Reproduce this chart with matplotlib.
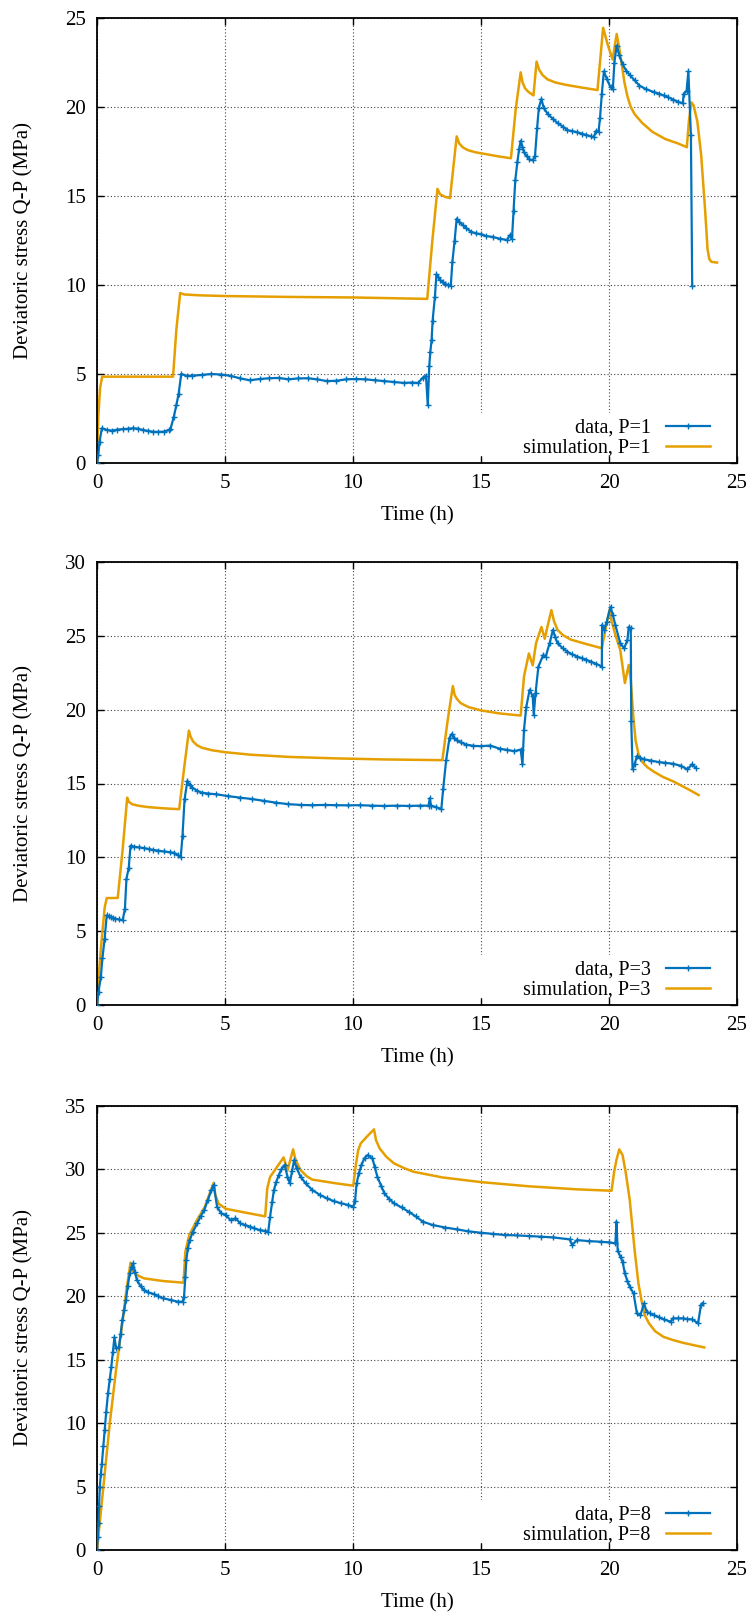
import matplotlib
matplotlib.use("Agg")
import matplotlib.pyplot as plt
from matplotlib.patches import Rectangle

plt.rcParams['font.family'] = ['Liberation Serif', 'DejaVu Serif']
plt.rcParams['axes.unicode_minus'] = False

BLUE = '#0072bd'
ORANGE = '#e69f00'

# ---------------- Panel 1 (P=1) ----------------
p1_data_t = [0, 0.05, 0.1, 0.19, 0.4, 0.6, 0.8, 1.0, 1.2, 1.4, 1.6, 1.8, 2.0, 2.2, 2.4, 2.6, 2.8,
             2.87, 3.0, 3.1, 3.19, 3.29,
             3.5, 3.72, 4.1, 4.47, 4.85, 5.22, 5.6, 5.97, 6.35, 6.72, 7.1, 7.48, 7.85, 8.23, 8.6,
             8.98, 9.35, 9.73, 10.1, 10.48, 10.85, 11.23, 11.6, 11.98, 12.3, 12.55,
             12.73, 12.85, 12.92, 12.98, 13.02, 13.07, 13.11, 13.2, 13.26, 13.33, 13.4, 13.5, 13.58, 13.7, 13.82,
             13.88, 13.97, 14.05, 14.15, 14.3, 14.42, 14.6, 14.8, 15.0, 15.18, 15.45, 15.74, 16.02, 16.12,
             16.21, 16.27, 16.34,
             16.42, 16.49, 16.55, 16.62, 16.68, 16.78, 16.87, 17.02, 17.11, 17.19, 17.26, 17.36, 17.45,
             17.62, 17.8, 17.99, 18.2, 18.37, 18.55, 18.75, 18.95, 19.12, 19.3, 19.4, 19.5, 19.59,
             19.65, 19.72, 19.8, 19.91, 20.06, 20.15,
             20.21, 20.3, 20.4, 20.53, 20.67, 20.81, 21.0, 21.19, 21.45, 21.75, 21.95, 22.13, 22.3,
             22.5, 22.7, 22.88, 22.92, 23.03, 23.1, 23.2, 23.25]
p1_data_q = [0, 0.45, 1.2, 1.95, 1.85, 1.82, 1.88, 1.9, 1.92, 1.95, 1.93, 1.85, 1.8, 1.75, 1.75, 1.76,
             1.85, 1.9, 2.6, 3.25, 3.9, 5.0,
             4.9, 4.9, 4.95, 5.0, 4.97, 4.9, 4.75, 4.65, 4.72, 4.76, 4.78, 4.7, 4.75, 4.76, 4.7,
             4.6, 4.62, 4.7, 4.72, 4.7, 4.65, 4.6, 4.55, 4.5, 4.52, 4.5,
             4.8, 4.9, 3.25, 5.47, 6.25, 6.9, 8.0, 9.35, 10.6, 10.45, 10.3, 10.15, 10.07, 10.0, 9.96,
             11.27, 12.5, 13.73, 13.55, 13.35, 13.2, 13.0, 12.9, 12.85, 12.76, 12.7, 12.6, 12.53, 12.8,
             12.6, 14.17, 15.9,
             16.9, 17.65, 18.1, 17.75, 17.46, 17.25, 17.07, 17.0, 17.26, 18.8, 19.97, 20.45, 19.95,
             19.58, 19.35, 19.1, 18.9, 18.7, 18.65, 18.58, 18.5, 18.42, 18.35, 18.3, 18.66, 18.6,
             19.4, 20.75, 22.0, 21.6, 21.1, 21.0,
             22.5, 23.45, 22.9, 22.4, 22.05, 21.8, 21.5, 21.2, 21.0, 20.84, 20.75, 20.65, 20.55,
             20.42, 20.3, 20.2, 20.75, 20.9, 22.0, 18.4, 9.96]

p1_sim_t = [0, 0.05, 0.12, 0.2, 2.97, 3.1, 3.25, 3.4, 4.0, 5.0, 7.5, 10.0, 12.9, 13.1, 13.3,
            13.4, 13.6, 13.79, 14.05, 14.15, 14.3, 14.5, 14.8, 15.2, 15.7, 16.17,
            16.35, 16.55, 16.62, 16.72, 16.85, 17.05, 17.17, 17.27, 17.4, 17.6, 17.9, 18.3, 18.9,
            19.55, 19.77, 19.95, 20.14, 20.3, 20.4, 20.5, 20.6, 20.72, 20.85, 21.0, 21.3, 21.7,
            22.2, 22.7, 23.04, 23.12, 23.22, 23.3, 23.45, 23.6, 23.75, 23.85, 23.92, 24.0, 24.22]
p1_sim_q = [0, 2.6, 4.2, 4.85, 4.85, 7.5, 9.55, 9.47, 9.42, 9.38, 9.33, 9.3, 9.22, 12.5, 15.4,
            15.1, 14.95, 14.88, 18.35, 17.95, 17.72, 17.57, 17.45, 17.35, 17.22, 17.12,
            19.8, 21.95, 21.4, 21.05, 20.85, 20.65, 22.55, 22.1, 21.8, 21.55, 21.38, 21.25, 21.1,
            20.95, 24.45, 23.5, 22.67, 24.1, 23.3, 22.4, 21.4, 20.6, 20.0, 19.6, 19.1, 18.6,
            18.2, 17.95, 17.74, 19.2, 20.26, 20.1, 19.2, 17.3, 14.3, 12.0, 11.45, 11.3, 11.26]

# ---------------- Panel 2 (P=3) ----------------
p2_data_t = [0, 0.06, 0.15, 0.21, 0.3, 0.38, 0.45, 0.53, 0.62, 0.71, 0.85, 1.0, 1.09, 1.15, 1.24, 1.31,
             1.45, 1.65, 1.85, 2.03, 2.2, 2.4, 2.6, 2.87, 3.0, 3.16, 3.27, 3.34, 3.42, 3.53, 3.62, 3.72,
             3.9, 4.09, 4.35, 4.66, 5.1, 5.6, 6.05,
             6.54, 7.0, 7.48, 7.95, 8.41, 8.9, 9.35, 9.8, 10.29, 10.75, 11.23, 11.7, 12.17, 12.6, 12.95,
             13.0, 13.05, 13.25, 13.45, 13.52,
             13.64, 13.77, 13.86, 13.95, 14.05, 14.2, 14.42, 14.7, 14.99, 15.36, 15.74, 16.0, 16.3, 16.55,
             16.62, 16.68,
             16.77, 16.9, 17.02, 17.06, 17.13, 17.24, 17.43, 17.53, 17.68, 17.81, 17.9, 17.99, 18.2, 18.37,
             18.55, 18.75, 18.95, 19.12, 19.3, 19.5, 19.72, 19.73, 19.82, 19.91, 20.06, 20.15, 20.25, 20.44,
             20.59, 20.72,
             20.77, 20.85, 20.87, 20.92, 21.0, 21.09, 21.2, 21.37, 21.65, 21.94, 22.2, 22.5, 22.8, 23.06,
             23.25, 23.38]
p2_data_q = [0, 0.9, 1.9, 3.15, 4.5, 6.07, 6.0, 5.96, 5.9, 5.84, 5.8, 5.73, 6.5, 8.54, 9.3, 10.79,
             10.72, 10.67, 10.62, 10.56, 10.5, 10.45, 10.4, 10.34, 10.3, 10.16, 10.0, 11.46, 13.93, 15.17,
             14.9, 14.72, 14.52, 14.38, 14.32, 14.27, 14.15, 14.04, 13.95,
             13.82, 13.7, 13.6, 13.55, 13.53, 13.55, 13.53, 13.52, 13.53, 13.5, 13.48, 13.5, 13.48, 13.5, 13.5,
             14.0, 13.5, 13.4, 13.26, 14.6,
             16.6, 18.1, 18.36, 18.1, 17.93, 17.78, 17.64, 17.55, 17.53, 17.57, 17.35, 17.28, 17.19, 17.3,
             16.3, 18.65,
             20.2, 21.35, 20.9, 19.66, 21.1, 22.9, 23.7, 23.6, 24.5, 25.4, 24.9, 24.5, 24.15, 23.93,
             23.75, 23.6, 23.48, 23.37, 23.25, 23.1, 22.92, 25.73, 25.4, 25.96, 26.97, 26.4, 25.73, 24.5,
             24.16, 24.72,
             25.6, 25.5, 19.2, 15.96, 16.3, 16.85, 16.75, 16.63, 16.55, 16.45, 16.4, 16.34, 16.2, 15.96,
             16.3, 16.07]

p2_sim_t = [0, 0.08, 0.15, 0.3, 0.38, 0.81, 1.0, 1.18, 1.25, 1.37, 1.6, 2.0, 2.6, 3.21, 3.4, 3.59,
            3.65, 3.75, 3.9, 4.1, 4.5, 5.0, 6.0, 7.5, 9.35, 11.2, 13.49, 13.7, 13.9, 13.97, 14.05,
            14.2, 14.5, 15.0, 15.7, 16.55, 16.68, 16.87, 17.02, 17.15, 17.36, 17.49, 17.62, 17.75,
            17.85, 17.99, 18.2, 18.5, 19.1, 19.72, 19.88, 20.02, 20.1, 20.25, 20.44, 20.62, 20.77,
            20.85, 20.95, 21.04, 21.15, 21.28, 21.5, 21.75, 22.1, 22.5, 23.0, 23.5]
p2_sim_q = [0, 2.2, 3.8, 6.6, 7.24, 7.25, 10.5, 14.04, 13.75, 13.6, 13.5, 13.4, 13.32, 13.26, 16.0,
            18.58, 18.2, 17.85, 17.6, 17.42, 17.25, 17.12, 16.95, 16.8, 16.7, 16.63, 16.58, 19.3,
            21.6, 21.0, 20.75, 20.45, 20.18, 19.95, 19.75, 19.6, 22.25, 23.8, 23.0, 24.5, 25.6, 24.8,
            25.8, 26.74, 26.0, 25.4, 25.05, 24.75, 24.45, 24.16, 25.6, 26.74, 26.0, 25.06, 24.04,
            21.8, 23.03, 22.0, 19.5, 17.9, 17.0, 16.5, 16.1, 15.8, 15.45, 15.15, 14.7, 14.22]

# ---------------- Panel 3 (P=8) ----------------
p3_data_t = [0, 0.03, 0.06, 0.08, 0.11, 0.15, 0.19, 0.25, 0.3, 0.36, 0.43, 0.5, 0.56, 0.62, 0.68,
             0.75, 0.86, 0.92, 0.99, 1.06, 1.13, 1.2, 1.28, 1.35, 1.41,
             1.48, 1.56, 1.7, 1.84, 2.0, 2.22, 2.4, 2.59, 2.9, 3.16, 3.34, 3.4, 3.45, 3.49, 3.55, 3.62,
             3.75, 3.91, 4.05, 4.19, 4.33, 4.47, 4.56,
             4.69, 4.85, 5.03, 5.22, 5.41, 5.6, 5.8, 5.97, 6.15, 6.35, 6.55, 6.69, 6.76, 6.84, 6.91,
             7.0, 7.1, 7.2, 7.33,
             7.44, 7.53, 7.62, 7.7, 7.8, 7.95, 8.15, 8.41, 8.7, 8.98, 9.25, 9.54, 9.8, 10.01, 10.08,
             10.14, 10.23, 10.33, 10.45, 10.57, 10.76,
             10.85, 10.95, 11.1, 11.23, 11.4, 11.6, 11.9, 12.17, 12.45, 12.73, 13.11, 13.6, 14.05,
             14.5, 14.99, 15.45, 15.93, 16.4, 16.87, 17.35, 17.81,
             18.46, 18.56, 18.75, 19.2, 19.68, 20.0, 20.25, 20.29, 20.34, 20.45, 20.53, 20.62, 20.72,
             20.81, 20.96,
             21.09, 21.23, 21.37, 21.47, 21.6, 21.75, 21.95, 22.13, 22.41, 22.5, 22.7, 22.88, 23.05,
             23.25, 23.48, 23.59, 23.66]
p3_data_q = [0, 1.0, 2.1, 3.5, 5.0, 6.0, 6.8, 8.2, 9.46, 10.9, 12.35, 13.5, 14.45, 15.6, 16.76,
             15.9, 16.0, 17.0, 18.13, 18.9, 19.7, 20.8, 21.8, 22.3, 22.6,
             21.9, 21.28, 20.8, 20.49, 20.3, 20.18, 20.0, 19.84, 19.7, 19.57, 19.57, 19.97, 21.5, 22.86,
             23.8, 24.43, 25.1, 25.75, 26.3, 26.8, 27.6, 28.38, 28.77,
             27.06, 26.54, 26.4, 26.0, 26.15, 25.75, 25.6, 25.5, 25.35, 25.22, 25.15, 25.09, 26.27, 27.4,
             28.38, 29.0, 29.56, 30.0, 30.35,
             29.43, 28.9, 29.9, 30.74, 30.1, 29.43, 28.9, 28.38, 28.0, 27.72, 27.5, 27.33, 27.2, 27.06,
             27.5, 28.9, 29.7, 30.35, 30.9, 31.13, 30.87,
             30.2, 29.43, 28.7, 28.11, 27.7, 27.33, 27.0, 26.67, 26.3, 25.88, 25.62, 25.42, 25.28,
             25.12, 25.01, 24.92, 24.83, 24.8, 24.75, 24.7, 24.64,
             24.49, 24.04, 24.43, 24.35, 24.3, 24.25, 24.17, 25.88, 23.6, 23.1, 22.73, 21.8, 21.2,
             20.76, 20.23,
             18.65, 18.52, 19.44, 18.79, 18.65, 18.52, 18.35, 18.18, 18.0, 18.26, 18.26, 18.26, 18.2,
             18.18, 17.87, 19.31, 19.44]

p3_sim_t = [0, 0.25, 0.5, 0.75, 1.0, 1.15, 1.31, 1.4, 1.56, 1.84, 2.59, 3.38, 3.45, 3.6, 3.9,
            4.2, 4.56, 4.62, 4.75, 5.03, 5.6, 6.57, 6.65, 6.76, 7.0, 7.29, 7.44, 7.66, 7.75, 7.95,
            8.2, 8.41, 9.35, 10.01, 10.1, 10.2, 10.3, 10.55, 10.82, 10.9, 11.04, 11.3, 11.6, 12.0,
            12.36, 13.49, 15.0, 16.87, 18.75, 20.1, 20.2, 20.29, 20.4, 20.53, 20.65, 20.81, 21.0,
            21.15, 21.28, 21.4, 21.56, 21.8, 22.13, 22.5, 22.88, 23.3, 23.72]
p3_sim_q = [0, 5.0, 10.0, 14.3, 18.0, 20.5, 22.65, 22.0, 21.68, 21.41, 21.2, 21.07, 23.5, 24.8,
            26.0, 27.0, 28.95, 28.0, 27.3, 26.9, 26.67, 26.3, 28.5, 29.4, 30.1, 30.95, 29.9, 31.58,
            30.8, 29.95, 29.45, 29.2, 28.9, 28.72, 30.2, 31.5, 32.05, 32.6, 33.16, 32.3, 31.66,
            31.0, 30.48, 30.1, 29.82, 29.37, 29.0, 28.67, 28.43, 28.32, 29.8, 30.74, 31.58, 31.13,
            29.8, 27.6, 23.65, 21.0, 19.57, 18.5, 17.87, 17.25, 16.8, 16.55, 16.34, 16.15, 15.97]

panels = [
    (p1_data_t, p1_data_q, p1_sim_t, p1_sim_q, 25, '1'),
    (p2_data_t, p2_data_q, p2_sim_t, p2_sim_q, 30, '3'),
    (p3_data_t, p3_data_q, p3_sim_t, p3_sim_q, 35, '8'),
]
xticks = [0, 5, 10, 15, 20, 25]

W, H = 753, 1618
fig = plt.figure(figsize=(W / 100, H / 100), dpi=100)
boxes = [(18, 463), (562, 1005), (1106, 1550)]
left, right = 97, 737
FS = 15

for (dt, dq, st, sq, ymax, P), (top, bot) in zip(panels, boxes):
    ax = fig.add_axes([left / W, 1 - bot / H, (right - left) / W, (bot - top) / H])
    ax.set_axisbelow(True)
    ax.grid(True, linestyle=(0, (1, 2)), color='#444444', linewidth=0.8)
    # opaque key box (gnuplot style) hiding the grid behind the legend
    ax.add_patch(Rectangle((0.58, 0.016), 0.42, 0.096, transform=ax.transAxes,
                           facecolor='white', edgecolor='none', zorder=0.8))
    ax.plot(dt, dq, color=BLUE, lw=1.6, marker='+', ms=4.5, mew=1.0,
            label=f'data, P={P}', zorder=3)
    ax.plot(st, sq, color=ORANGE, lw=1.8, label=f'simulation, P={P}', zorder=2.5)
    ax.set_xlim(0, 25)
    ax.set_ylim(0, ymax)
    ax.set_xticks(xticks)
    ax.set_yticks(list(range(0, ymax + 1, 5)))
    ax.tick_params(direction='in', length=5, width=1, top=True, right=True,
                   labelsize=FS, pad=8)
    for s in ax.spines.values():
        s.set_linewidth(1.3)
    ax.set_xlabel('Time (h)', fontsize=FS)
    ax.set_ylabel('Deviatoric stress Q-P (MPa)', fontsize=FS)
    ax.xaxis.set_label_coords(0.5, -0.098)
    ax.yaxis.set_label_coords(-0.1, 0.5)
    ax.legend(loc='lower right', bbox_to_anchor=(0.958, 0.012), markerfirst=False,
              frameon=False, fontsize=14.5, handlelength=2.2, handletextpad=0.75,
              labelspacing=0.05, borderpad=0, borderaxespad=0)

fig.savefig('out.png', dpi=100)
